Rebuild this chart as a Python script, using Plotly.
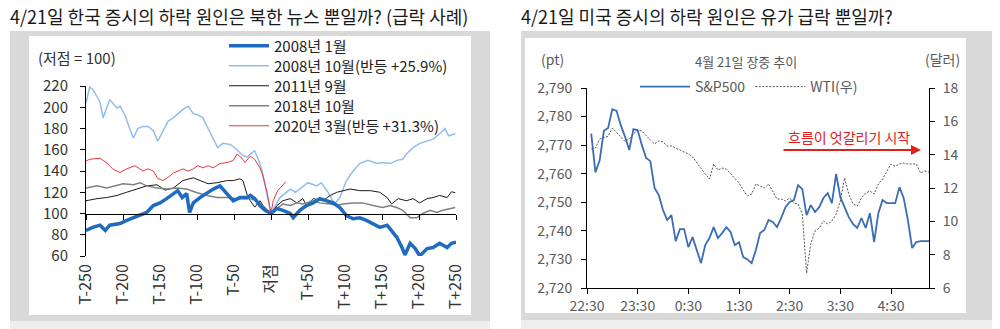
import plotly.graph_objects as go
import pandas as pd

W, H = 1000, 329
def fx(px): return px / W
def fy(py): return 1 - py / H

# ---------------- Left chart data (index, trough = 100) ----------------
x_ticks = [-250, -200, -150, -100, -50, 0, 50, 100, 150, 200, 250]
x_ticktext = ["T-250", "T-200", "T-150", "T-100", "T-50", "저점",
              "T+50", "T+100", "T+150", "T+200", "T+250"]

# 2008년 1월
t_2008_01 = [-250, -241, -231, -224, -218, -204, -195, -186, -177, -168, -159, -150,
             -141, -132, -126, -120, -114, -110, -105, -96, -86, -78, -69, -59, -51,
             -42, -32, -28, -22, -15, -8, 0, 8, 16, 26, 30, 39, 48, 57, 66, 75, 84,
             93, 102, 111, 120, 129, 138, 147, 157, 163, 170, 177, 181, 188, 195,
             201, 211, 219, 228, 238, 244, 250]
v_2008_01 = [84, 87, 89, 84, 89, 90.6, 93.5, 96, 98, 101, 107.5, 110,
             114, 118.7, 121.5, 115, 118.7, 101, 110, 115, 119.6, 123, 126, 118, 112,
             115, 115, 117, 114, 107.5, 103, 100, 104.7, 103, 100, 96, 103, 107.5, 110,
             114, 112, 110, 105.6, 98, 95, 96, 93.5, 90.6, 87, 89, 84, 77.6, 68, 61,
             72, 67, 60, 67, 68, 72, 68, 72, 73]

# 2008년 10월
t_2008_10 = [-250, -245, -241, -235, -231, -227, -222, -218, -215, -208, -204, -197,
             -191, -186, -180, -173, -166, -159, -153, -146, -139, -132, -126, -119,
             -112, -105, -99, -92, -85, -78, -72, -65, -55, -46, -39, -32, -28, -22,
             -15, -11, -5, 0, 12, 26, 33, 50, 62, 68, 77, 86, 93, 102, 111, 120, 131,
             143, 151, 161, 170, 178, 183, 192, 201, 211, 219, 228, 235, 240, 249]
v_2008_10 = [204, 219, 217, 210, 205, 190, 199, 207, 205, 199, 201, 192,
             180, 171, 180, 182, 182, 178, 168, 178, 187, 190, 194, 198,
             201, 194, 193, 190, 180, 171, 162, 166, 165, 160, 155, 153, 156, 159,
             147, 137, 115, 100, 115, 123, 120, 129, 126, 129, 120, 109, 115, 131,
             140, 147, 150, 147, 148, 147, 150, 151, 156, 162, 166, 168, 170, 175,
             180, 173, 175]

# 2011년 9월
t_2011_09 = [-250, -235, -222, -208, -195, -181, -168, -154, -143, -132, -119, -105,
             -96, -85, -73, -59, -51, -42, -38, -32, -28, -22, -15, -8, 0, 8, 16, 26,
             35, 43, 48, 57, 70, 80, 89, 97, 107, 120, 134, 147, 157, 163, 172, 183,
             192, 201, 211, 219, 228, 238, 244, 249]
v_2011_09 = [112, 114, 115, 117, 120, 123, 126, 127, 122, 124, 131, 133.6,
             131, 128, 129, 131, 131, 132.7, 131, 117, 112, 106, 112, 104.7, 100,
             107.5, 112, 114, 110, 114, 107.5, 114, 112, 117, 120, 121.5, 123, 121.5,
             121.5, 120, 115, 109, 114, 112, 114, 110, 114, 115, 117, 115, 120.5,
             119.6]

# 2018년 10월
t_2018_10 = [-250, -235, -222, -200, -186, -177, -168, -154, -141, -127, -114, -100,
             -86, -73, -59, -46, -32, -28, -20, -11, 0, 8, 16, 26, 35, 43, 57, 66, 80,
             89, 97, 111, 124, 138, 151, 161, 170, 178, 188, 197, 205, 215, 224, 232,
             242, 249]
v_2018_10 = [124, 126, 124, 128, 127, 129, 126, 124, 123, 124, 123, 119.6,
             117, 115, 115, 114, 114, 114, 112, 107.5, 100, 104.7, 109, 107.5, 110,
             109, 112, 110, 109, 107.5, 109, 110, 110, 107.5, 105.6, 107.5, 105.6,
             103, 96, 96, 100, 103, 101, 103, 104.7, 105.6]

# 2020년 3월
t_2020_03 = [-250, -245, -231, -222, -214, -204, -195, -184, -173, -166, -159, -153,
             -146, -139, -132, -126, -119, -112, -105, -99, -92, -85, -78, -69, -59,
             -51, -46, -39, -35, -28, -22, -15, -11, -5, 0, 3, 9, 15, 20]
v_2020_03 = [149.5, 151, 152, 147.7, 142, 138.5, 142, 145, 140, 142, 140, 133,
             131, 134, 138, 140, 142, 140, 142, 145, 143, 145, 143, 147, 148,
             150, 156, 152, 148, 154, 151, 143, 135.5, 118.7, 100, 112, 121.5, 126,
             130]

# ---------------- Right chart data (Apr 21 intraday) ----------------
sp500 = [2774, 2760.5, 2764.7, 2775, 2776, 2782.6, 2782, 2777, 2773, 2768.3,
         2775.6, 2775.2, 2770, 2765.5, 2764.4, 2755, 2752.5, 2747.3, 2743.8, 2745.5,
         2736.4, 2740.6, 2740.6, 2734.3, 2737.8, 2733.3, 2728.7, 2735, 2737.5, 2741.3,
         2737.5, 2739.2, 2741.3, 2739.6, 2735, 2736, 2730.8, 2730, 2728.7, 2733.3,
         2739.2, 2740.3, 2743.8, 2743.1, 2741.3, 2744.5, 2748.3, 2750.1, 2750.8, 2756.0,
         2754.6, 2745.5, 2749.0, 2746.6, 2748.3, 2751.5, 2753.2, 2749.7, 2759.9, 2751.8,
         2748.3, 2744.8, 2742.4, 2741.0, 2744.5, 2741.0, 2746.2, 2736.1, 2746.2, 2750.8,
         2749.7, 2749.7, 2749.7, 2755.3, 2751.5, 2743.8, 2734.0, 2736.1, 2736.4, 2736.4,
         2736.4]
wti = [14.34, 14.4, 14.94, 15.0, 15.1, 15.6, 15.3, 15.06, 14.8, 14.94,
       15.24, 15.48, 15.42, 15.12, 14.88, 14.64, 14.82, 14.76, 14.52, 14.52,
       14.4, 14.28, 14.16, 14.04, 13.86, 13.5, 13.14, 12.84, 12.54, 13.44,
       13.08, 13.2, 13.14, 12.84, 12.6, 12.3, 11.88, 11.52, 11.64, 12.24,
       12.12, 12.0, 12.24, 11.82, 11.34, 11.34, 11.22, 11.4, 11.1, 11.04,
       10.44, 6.9, 8.64, 9.42, 9.6, 10.02, 9.84, 10.02, 10.44, 11.22,
       12.6, 11.64, 11.04, 10.92, 11.4, 11.7, 11.82, 11.64, 12.24, 12.54,
       13.0, 13.44, 13.3, 13.44, 13.5, 13.44, 13.44, 13.44, 12.9, 13.02,
       12.96]
times = pd.date_range("2020-04-21 22:35", periods=len(sp500), freq="5min")

FONT_L = "Noto Sans CJK KR, Malgun Gothic, sans-serif"
FONT_R = "Noto Sans CJK KR, Noto Sans, sans-serif"

fig = go.Figure()

# (name, t, v, colour, width, legend id, legend row centre in px)
left_series = [
    ("2008년 10월(반등 +25.9%)", t_2008_10, v_2008_10, "#8fbdee", 1.5, "legend3", 66),
    ("2011년 9월", t_2011_09, v_2011_09, "#1a1a1a", 1.0, "legend4", 86),
    ("2018년 10월", t_2018_10, v_2018_10, "#808080", 1.5, "legend5", 106),
    ("2020년 3월(반등 +31.3%)", t_2020_03, v_2020_03, "#e8383d", 1.0, "legend6", 126),
    ("2008년 1월", t_2008_01, v_2008_01, "#1f6bbf", 3.5, "legend", 46),
]
for name, t, v, c, w, lg, _ in left_series:
    fig.add_trace(go.Scatter(x=t, y=v, name=name, mode="lines",
                             line=dict(color=c, width=w), legend=lg,
                             xaxis="x", yaxis="y"))
fig.add_trace(go.Scatter(x=[None], y=[None], xaxis="x2", yaxis="y",
                         showlegend=False, hoverinfo="skip"))

fig.add_trace(go.Scatter(x=times, y=sp500, name="S&P500", mode="lines",
                         line=dict(color="#3a6db4", width=1.8),
                         xaxis="x3", yaxis="y3", legend="legend2"))
fig.add_trace(go.Scatter(x=times, y=wti, name="WTI(우)", mode="lines",
                         line=dict(color="#555555", width=1, dash="2px,1.5px"),
                         xaxis="x3", yaxis="y4", legend="legend2"))

L_X = [fx(86), fx(456)]
L_Y = [fy(256), fy(86)]
R_X = [fx(587), fx(929)]
R_Y = [fy(288), fy(88)]
yl_range = [60, 220]
mid_pos = L_Y[0] + (100 - yl_range[0]) / (yl_range[1] - yl_range[0]) * (L_Y[1] - L_Y[0])

tickfont_l = dict(family=FONT_L, size=15, color="#333333")
tickfont_r = dict(family=FONT_R, size=14, color="#595959")

legend_font_l = dict(family=FONT_L, size=15, color="#222222")
legends = {}
for name, t, v, c, w, lg, row in left_series:
    legends[lg] = dict(x=fx(224), y=fy(row), xanchor="left", yanchor="middle",
                       bgcolor="rgba(0,0,0,0)", font=legend_font_l, itemwidth=40)

fig.update_layout(
    width=W, height=H, autosize=False,
    margin=dict(l=0, r=0, t=0, b=0, autoexpand=False),
    paper_bgcolor="white", plot_bgcolor="rgba(0,0,0,0)",
    showlegend=True,
    xaxis=dict(domain=L_X, range=[-250, 250], anchor="y",
               tickvals=x_ticks, ticktext=x_ticktext, tickangle=-90,
               showline=False, ticks="", showgrid=False, zeroline=False,
               tickfont=dict(family=FONT_L, size=16, color="#333333"),
               ticklabelstandoff=4),
    xaxis2=dict(overlaying="x", matches="x", anchor="free", position=mid_pos,
                tickvals=x_ticks, showticklabels=False, showline=True,
                linecolor="#000", linewidth=1, ticks="outside", ticklen=5,
                tickcolor="#000", showgrid=False, zeroline=False),
    yaxis=dict(domain=L_Y, range=yl_range, tickvals=list(range(60, 221, 20)),
               showline=True, linecolor="#000", linewidth=1, ticks="outside",
               ticklen=5, tickcolor="#000", showgrid=False, zeroline=False,
               tickfont=tickfont_l, anchor="x", ticklabelstandoff=9),
    xaxis3=dict(domain=R_X, anchor="y3", type="date",
                range=["2020-04-21 22:30", "2020-04-22 05:15"],
                tick0="2020-04-21 22:30", dtick=3600000, tickformat="%-H:%M",
                showline=True, linecolor="#000", linewidth=1, ticks="outside",
                ticklen=5, tickcolor="#000", showgrid=False, zeroline=False,
                tickfont=tickfont_r),
    yaxis3=dict(domain=R_Y, anchor="x3", range=[2720, 2790], dtick=10,
                tickformat=",", showline=True, linecolor="#000", linewidth=1,
                ticks="outside", ticklen=5, tickcolor="#000", showgrid=False,
                zeroline=False, tickfont=tickfont_r, ticklabelstandoff=6),
    yaxis4=dict(overlaying="y3", side="right", anchor="x3", range=[6, 18], dtick=2,
                showline=True, linecolor="#000", linewidth=1, ticks="outside",
                ticklen=5, tickcolor="#000", showgrid=False, zeroline=False,
                tickfont=tickfont_r, ticklabelstandoff=5),
    legend2=dict(x=fx(635), y=fy(87), xanchor="left", yanchor="middle",
                 orientation="h", bgcolor="rgba(0,0,0,0)",
                 font=dict(family=FONT_R, size=14, color="#595959"),
                 itemwidth=50),
    **legends,
)

shapes = [
    dict(x0=fx(10), x1=fx(490), y0=fy(321), y1=fy(31), fillcolor="#d9d9d9"),
    dict(x0=fx(10), x1=fx(490), y0=fy(329), y1=fy(321), fillcolor="#eeeeee"),
    dict(x0=fx(29), x1=fx(471), y0=fy(315), y1=fy(36), fillcolor="#ffffff"),
    dict(x0=fx(521), x1=fx(992), y0=fy(320), y1=fy(31), fillcolor="#d9d9d9"),
    dict(x0=fx(521), x1=fx(992), y0=fy(329), y1=fy(320), fillcolor="#eeeeee"),
    dict(x0=fx(525), x1=fx(966), y0=fy(313), y1=fy(38), fillcolor="#ffffff"),
]
fig.update_layout(shapes=[dict(type="rect", xref="paper", yref="paper",
                               line=dict(width=0), layer="below", **s) for s in shapes])

ann = []
def txt(x, y, text, size, color, family, xanchor="left", **kw):
    ann.append(dict(x=fx(x), y=fy(y), xref="paper", yref="paper", text=text,
                    showarrow=False, xanchor=xanchor, yanchor="middle",
                    font=dict(size=size, color=color, family=family), **kw))

txt(8, 16, "4/21일 한국 증시의 하락 원인은 북한 뉴스 뿐일까? (급락 사례)", 18, "#1a1a1a", FONT_L)
txt(519, 16, "4/21일 미국 증시의 하락 원인은 유가 급락 뿐일까?", 18, "#1a1a1a", FONT_L)
txt(36, 57, "(저점 = 100)", 15, "#333333", FONT_L)
txt(539, 59, "(pt)", 14, "#595959", FONT_R)
txt(746, 61, "4월 21일 장중 추이", 13, "#595959", FONT_R, xanchor="center")
txt(942, 59, "(달러)", 14, "#595959", FONT_R, xanchor="center")
txt(849, 137, "흐름이 엇갈리기 시작", 14, "#e02020", FONT_R, xanchor="center")
ann.append(dict(x=fx(921), y=fy(150), ax=-139, ay=0, xref="paper", yref="paper",
                axref="pixel", ayref="pixel", text="", showarrow=True,
                arrowhead=2, arrowsize=1, arrowwidth=2, arrowcolor="#e02020"))
fig.update_layout(annotations=ann)

fig.write_html("out.html")
